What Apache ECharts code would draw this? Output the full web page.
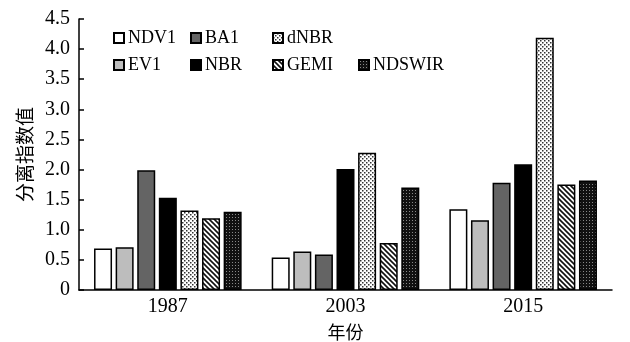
<!DOCTYPE html>
<html><head><meta charset="utf-8">
<script src="https://cdn.jsdelivr.net/npm/echarts@6/dist/echarts.min.js"></script>
<style>html,body{margin:0;padding:0;background:#fff}#c{width:630px;height:342px}</style>
</head><body><div id="c"></div>
<script>
var categories = ['1987', '2003', '2015'];
var seriesNames = ['NDV1', 'EV1', 'BA1', 'NBR', 'dNBR', 'GEMI', 'NDSWIR'];
var NDV1 = [0.69, 0.54, 1.34];
var EV1 = [0.71, 0.64, 1.16];
var BA1 = [1.99, 0.59, 1.78];
var NBR = [1.53, 2.01, 2.09];
var dNBR = [1.32, 2.28, 4.19];
var GEMI = [1.19, 0.78, 1.75];
var NDSWIR = [1.30, 1.70, 1.82];
var yTicks = ['0', '0.5', '1.0', '1.5', '2.0', '2.5', '3.0', '3.5', '4.0', '4.5'];

function tile(w, h, draw) {
  var c = document.createElement('canvas');
  c.width = w; c.height = h;
  var g = c.getContext('2d');
  draw(g);
  return { image: c, repeat: 'repeat' };
}
var dotPat = tile(4, 4, function (g) {
  g.fillStyle = '#fff'; g.fillRect(0, 0, 4, 4);
  g.fillStyle = '#333'; g.fillRect(0, 0, 1.5, 1.5); g.fillRect(2, 2, 1.5, 1.5);
});
var stripePat = tile(5, 5, function (g) {
  g.fillStyle = '#fff'; g.fillRect(0, 0, 5, 5);
  g.strokeStyle = '#111'; g.lineWidth = 1.6;
  g.beginPath();
  g.moveTo(-1, -1); g.lineTo(6, 6);
  g.moveTo(-1, 4); g.lineTo(1, 6);
  g.moveTo(4, -1); g.lineTo(6, 1);
  g.stroke();
});
var gridPat = tile(3, 3, function (g) {
  g.fillStyle = '#111'; g.fillRect(0, 0, 3, 3);
  g.fillStyle = '#888'; g.fillRect(1, 1, 1, 1);
});

var dataMap = { NDV1: NDV1, EV1: EV1, BA1: BA1, NBR: NBR, dNBR: dNBR, GEMI: GEMI, NDSWIR: NDSWIR };
var fills = { NDV1: '#ffffff', EV1: '#bdbdbd', BA1: '#646464', NBR: '#000000', dNBR: dotPat, GEMI: stripePat, NDSWIR: gridPat };

var serif = 'Liberation Serif';
var series = seriesNames.map(function (n, i) {
  return {
    name: n, type: 'bar', data: dataMap[n],
    barWidth: 18, barGap: '20%',
    itemStyle: { color: fills[n], borderColor: '#000', borderWidth: 1.5 },
    emphasis: { disabled: true }
  };
});

function legendCol(names, left, top) {
  return {
    data: names, orient: 'vertical', left: left, top: top,
    itemWidth: 10, itemHeight: 10, itemGap: 9,
    icon: 'rect', padding: 0,
    textStyle: { fontFamily: serif, fontSize: 18, color: '#000', padding: [0, 0, 0, -1] },
    selectedMode: false
  };
}

var chart = echarts.init(document.getElementById('c'));
chart.setOption({
  animation: false,
  backgroundColor: '#fff',
  grid: { left: 79, right: 18, top: 19, bottom: 52, containLabel: false, outerBoundsMode: 'none' },
  legend: [
    legendCol(['NDV1', 'EV1'], 113, 29),
    legendCol(['BA1', 'NBR'], 190, 29),
    legendCol(['dNBR', 'GEMI'], 272, 29),
    legendCol(['NDSWIR'], 358, 56)
  ],
  xAxis: {
    type: 'category', data: categories,
    name: '年份', nameLocation: 'middle', nameGap: 33,
    nameTextStyle: { fontFamily: 'Noto Sans CJK SC', fontSize: 18, color: '#000' },
    axisLine: { lineStyle: { color: '#000', width: 1.5 } },
    axisTick: { inside: true, length: 5, lineStyle: { color: '#000', width: 1.5 } },
    axisLabel: { fontFamily: serif, fontSize: 20, color: '#000', margin: 7 }
  },
  yAxis: {
    type: 'value', min: 0, max: 4.5, interval: 0.5,
    name: '分离指数值', nameLocation: 'middle', nameGap: 45, nameRotate: 90,
    nameTextStyle: { fontFamily: 'Noto Sans CJK SC', fontSize: 19, color: '#000' },
    axisLine: { show: true, lineStyle: { color: '#000', width: 1.5 } },
    axisTick: { show: true, inside: true, length: 5, lineStyle: { color: '#000', width: 1.5 } },
    splitLine: { show: false },
    axisLabel: {
      fontFamily: serif, fontSize: 20, color: '#000', margin: 9,
      formatter: function (v) { return yTicks[Math.round(v / 0.5)]; }
    }
  },
  series: series
});
</script>
</body></html>
